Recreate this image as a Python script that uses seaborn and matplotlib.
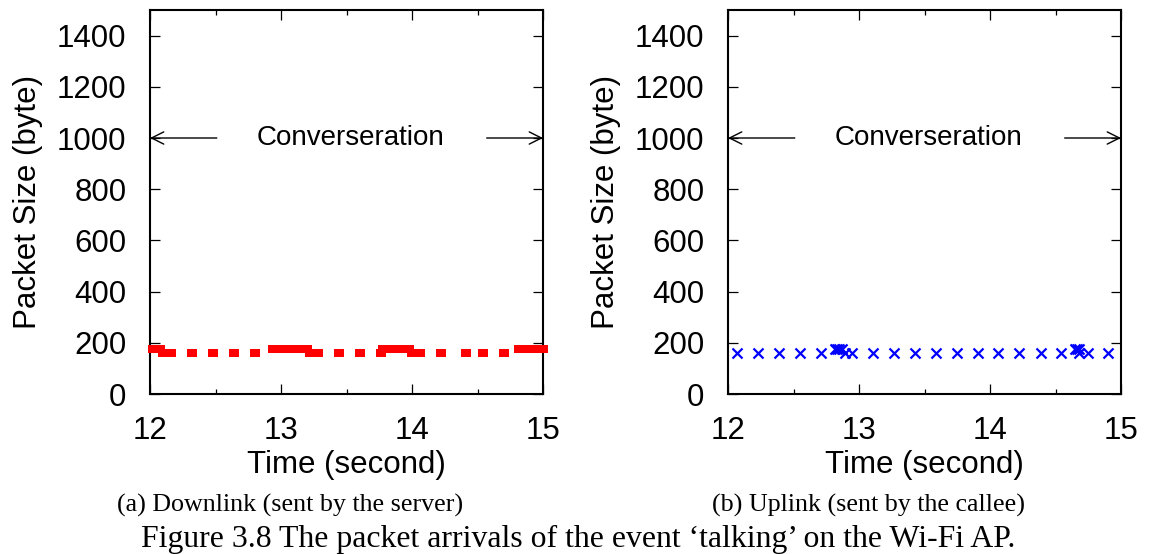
import matplotlib
matplotlib.use("Agg")
import matplotlib.pyplot as plt
import pandas as pd
import seaborn as sns
from matplotlib.ticker import MultipleLocator

# downlink packets (sent by the server), time in seconds
down_time_160 = [12.10, 12.16, 12.32, 12.48, 12.64, 12.80, 13.22, 13.28, 13.44,
                 13.60, 13.76, 14.00, 14.06, 14.22, 14.41, 14.54, 14.70]
down_time_175 = [12.02, 12.05, 12.08, 12.94, 12.99, 13.04, 13.09, 13.15, 13.20,
                 13.78, 13.83, 13.88, 13.93, 13.98, 14.82, 14.87, 14.92, 14.97, 15.00]

# uplink packets (sent by the callee)
up_time_160 = [12.07, 12.23, 12.39, 12.55, 12.71, 12.89, 12.95, 13.11, 13.27, 13.43,
               13.59, 13.75, 13.91, 14.06, 14.22, 14.39, 14.54, 14.68, 14.75, 14.90]
up_time_176 = [12.82, 12.835, 12.85, 12.87, 14.65, 14.665, 14.68]

y_ticks = [0, 200, 400, 600, 800, 1000, 1200, 1400]
x_ticks = [12, 13, 14, 15]

down = pd.DataFrame({
    "time": down_time_160 + down_time_175,
    "size": [160] * len(down_time_160) + [175] * len(down_time_175),
})
up = pd.DataFrame({
    "time": up_time_160 + up_time_176,
    "size": [160] * len(up_time_160) + [176] * len(up_time_176),
})

sns.set_style("ticks")
plt.rcParams["font.family"] = ["Liberation Sans", "DejaVu Sans"]
plt.rcParams["text.color"] = "black"
plt.rcParams["axes.labelcolor"] = "black"
plt.rcParams["xtick.color"] = "black"
plt.rcParams["ytick.color"] = "black"

W, H = 1151, 554
fig = plt.figure(figsize=(W / 100, H / 100), dpi=100)
ax1 = fig.add_axes([150 / W, 160 / H, 393 / W, 384 / H])
ax2 = fig.add_axes([728 / W, 160 / H, 393 / W, 384 / H])

rect = [(-1, -0.87), (1, -0.87), (1, 0.87), (-1, 0.87)]
sns.scatterplot(data=down, x="time", y="size", ax=ax1, color="#ff0000",
                marker=rect, s=52, linewidth=0, clip_on=False, zorder=3)
sns.scatterplot(data=up, x="time", y="size", ax=ax2, color="#0000ff",
                marker="x", s=52, linewidth=1.6, clip_on=False, zorder=3)

for ax in (ax1, ax2):
    ax.set_xlim(12, 15)
    ax.set_ylim(0, 1500)
    ax.set_xticks(x_ticks)
    ax.set_yticks(y_ticks)
    ax.xaxis.set_minor_locator(MultipleLocator(0.5))
    ax.tick_params(which="both", direction="in", top=True, right=True,
                   labelsize=22.5, color="black", labelcolor="black", width=0.9)
    ax.tick_params(which="major", length=7)
    ax.tick_params(which="minor", length=3.5)
    ax.tick_params(axis="x", pad=16)
    ax.tick_params(axis="y", pad=17)
    for sp in ax.spines.values():
        sp.set_visible(True)
        sp.set_linewidth(1.5)
        sp.set_color("black")
    ax.set_xlabel("Time (second)", fontsize=22.5, labelpad=3, color="black")
    ax.set_ylabel("Packet Size (byte)", fontsize=22.5, labelpad=10, color="black")

    # conversation span marker
    ax.annotate("", xy=(12, 1000), xytext=(12.51, 1000),
                arrowprops=dict(arrowstyle="->", lw=1, color="black",
                                shrinkA=0, shrinkB=0, mutation_scale=22))
    ax.annotate("", xy=(15, 1000), xytext=(14.57, 1000),
                arrowprops=dict(arrowstyle="->", lw=1, color="black",
                                shrinkA=0, shrinkB=0, mutation_scale=22))
    ax.text(13.53, 1000, "Converseration", ha="center", va="center",
            fontsize=20, color="black")

serif = ["Liberation Serif", "DejaVu Serif"]
fig.text(290 / W, (H - 511.7) / H, "(a) Downlink (sent by the server)",
         ha="center", va="baseline", fontsize=18.7, family=serif, color="black")
fig.text(868.5 / W, (H - 511.7) / H, "(b) Uplink (sent by the callee)",
         ha="center", va="baseline", fontsize=18.7, family=serif, color="black")
fig.text(578.5 / W, (H - 547) / H,
         "Figure 3.8 The packet arrivals of the event \u2018talking\u2019 on the Wi-Fi AP.",
         ha="center", va="baseline", fontsize=22.9, family=serif, color="black")

fig.savefig("out.png", dpi=100)
